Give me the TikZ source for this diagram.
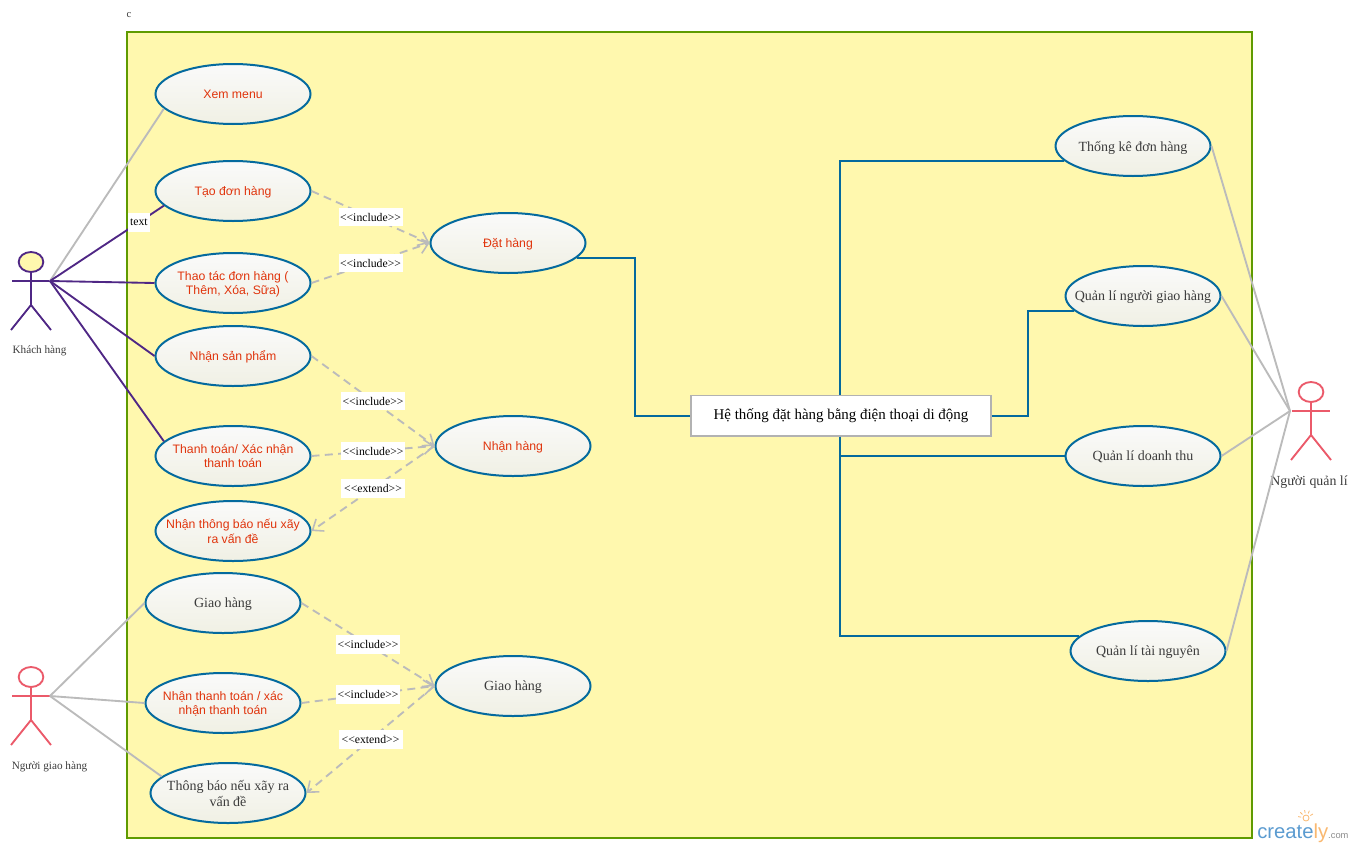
\documentclass[tikz,border=0pt]{standalone}
\usepackage{fontspec}
\setmainfont{Liberation Serif}
\newfontfamily\arialfont{Liberation Sans}
\usetikzlibrary{positioning, shapes.geometric, arrows.meta, calc}

\definecolor{frameGreen}{HTML}{5F9B00}
\definecolor{frameYellow}{HTML}{FFF8AE}
\definecolor{ucBlue}{HTML}{046A9E}
\definecolor{ucRed}{HTML}{E0340C}
\definecolor{ucGray}{HTML}{3C3C3C}
\definecolor{ucTop}{HTML}{FAFAFA}
\definecolor{ucBottom}{HTML}{F0F0E4}
\definecolor{linkGray}{HTML}{BBBBBB}
\definecolor{actPurple}{HTML}{4F2785}
\definecolor{actRed}{HTML}{EB5A6A}
\definecolor{logoBlue}{HTML}{5B9BD0}
\definecolor{logoOrange}{HTML}{F9B870}

\begin{document}
\begin{tikzpicture}[
    x=0.75pt, y=-0.75pt,
    usecase/.style={ellipse, draw=ucBlue, line width=1.5pt, top color=ucTop, bottom color=ucBottom,
        minimum width=116.25pt, minimum height=45pt, inner xsep=-20pt, inner ysep=-3pt, align=center, text depth=0pt},
    redcase/.style={usecase, text=ucRed, font=\arialfont\fontsize{9.2}{11}\selectfont},
    graycase/.style={usecase, text=ucGray, font=\fontsize{10.5}{13}\selectfont},
    actorhead/.style={ellipse, line width=1.4pt, minimum width=18.5pt, minimum height=15pt, inner sep=0pt},
    actorname/.style={text=ucGray, font=\fontsize{8.4}{10}\selectfont, inner sep=0pt},
    greyline/.style={draw=linkGray, line width=1.4pt},
    purpleline/.style={draw=actPurple, line width=1.4pt},
    blueline/.style={draw=ucBlue, line width=1.5pt},
    dashline/.style={draw=linkGray, line width=1.4pt, dash pattern=on 6pt off 4pt,
        -{Straight Barb[length=7pt, width=11pt, line width=1.2pt]}},
    tagbox/.style={fill=white, text=black, inner sep=0pt, minimum height=14pt, minimum width=48pt, font=\fontsize{8.8}{10}\selectfont}
]
\useasboundingbox (0,0) rectangle (1355,846);

% System frame
\draw[frameGreen, line width=1.5pt, fill=frameYellow] (127,32) rectangle (1252,838);
\node[text=ucGray, font=\fontsize{8}{9}\selectfont, inner sep=0pt] (framename) at (129,15.5) {c};

% Actors
\foreach \nm/\ax/\ay/\col/\headfill in {buyer/31/262/actPurple/frameYellow, shipper/31/677/actRed/white, manager/1311/392/actRed/white} {
    \node[actorhead, draw=\col, fill=\headfill] (\nm) at (\ax,\ay) {};
    \draw[\col, line width=1.4pt] (\nm.south) -- (\ax,\ay+43) -- (\ax-20,\ay+68);
    \draw[\col, line width=1.4pt] (\ax,\ay+43) -- (\ax+20,\ay+68);
    \draw[\col, line width=1.4pt] (\ax-19,\ay+19) -- (\ax+19,\ay+19);
}
\coordinate (buyerhand) at (50,281);
\coordinate (shipperhand) at (50,696);
\coordinate (managerhand) at (1290,411);
\node[actorname] (buyername) at (39.5,350.5) {Khách hàng};
\node[actorname] (shippername) at (49.5,766.5) {Người giao hàng};
\node[actorname, font=\fontsize{10.4}{12}\selectfont] (managername) at (1309,482.5) {Người quản lí};

% Use cases, left column
\node[redcase] (menu) at (233,94) {Xem menu};
\node[redcase] (create) at (233,191) {Tạo đơn hàng};
\node[redcase] (edit) at (233,283) {Thao tác đơn hàng (\\Thêm, Xóa, Sữa)};
\node[redcase] (receive) at (233,356) {Nhận sản phẩm};
\node[redcase] (pay) at (233,456) {Thanh toán/ Xác nhận\\thanh toán};
\node[redcase] (notice) at (233,531) {Nhận thông báo nếu xãy\\ra vấn đề};
\node[graycase] (deliver) at (223,603) {Giao hàng};
\node[redcase] (collect) at (223,703) {Nhận thanh toán / xác\\nhận thanh toán};
\node[graycase, font=\fontsize{10.5}{12}\selectfont] (report) at (228,793) {Thông báo nếu xãy ra\\vấn đề};

% Use cases, middle column
\node[redcase] (order) at (508,243) {Đặt hàng};
\node[redcase] (getgoods) at (513,446) {Nhận hàng};
\node[graycase] (shipping) at (513,686) {Giao hàng};

% Use cases, right column
\node[graycase] (stats) at (1133,146) {Thống kê đơn hàng};
\node[graycase] (staff) at (1143,296) {Quản lí người giao hàng};
\node[graycase] (income) at (1143,456) {Quản lí doanh thu};
\node[graycase] (stock) at (1148,651) {Quản lí tài nguyên};

% The system box
\node[draw=black!30, line width=1pt, fill=white, text=black, minimum width=225pt, minimum height=30.5pt, inner sep=0pt,
    font=\fontsize{11.2}{13}\selectfont] (system) at (841,415.5) {Hệ thống đặt hàng bằng điện thoại di động};
\coordinate (trunk) at (839.5,415.5);
\coordinate (orderbend) at (635,258);
\coordinate (staffbend) at (1028,415.5);

% Actor links
\draw[greyline] (buyerhand) -- (menu.192);
\draw[purpleline] (buyerhand) -- (create.192) node[pos=0.78, fill=white, text=black, inner sep=0pt, minimum width=16.5pt, minimum height=14pt, font=\fontsize{8.8}{10}\selectfont] (createtag) {text};
\draw[purpleline] (buyerhand) -- (edit.180);
\draw[purpleline] (buyerhand) -- (receive.180);
\draw[purpleline] (buyerhand) -- (pay.168);
\draw[greyline] (shipperhand) -- (deliver.180);
\draw[greyline] (shipperhand) -- (collect.180);
\draw[greyline] (shipperhand) -- (report.166);
\foreach \uc in {stats, staff, income, stock} {
    \draw[greyline] (managerhand) -- (\uc.0);
}

% Include and extend links
\foreach \from/\to/\tag in {create.0/order.180/include, edit.0/order.180/include,
    receive.0/getgoods.180/include, pay.0/getgoods.180/include, getgoods.180/notice.0/extend,
    deliver.0/shipping.180/include, collect.0/shipping.180/include, shipping.180/report.0/extend} {
    \draw[dashline] (\from) -- (\to) node[midway, tagbox] {<{}<\tag>{}>};
}

% System links
\draw[blueline] (orderbend -| order.348) -- (orderbend) |- (system.west);
\draw[blueline] (system.north -| trunk) |- (stats.192);
\draw[blueline] (system.east) -- (staffbend) |- (staff.192);
\draw[blueline] (system.south -| trunk) |- (income.180);
\draw[blueline] (system.south -| trunk) |- (stock.168);

% Watermark
\node[inner sep=0pt, anchor=base west, font=\arialfont\fontsize{15.2}{16}\selectfont, text=logoBlue] (logo) at (1257,838)
    {create\textcolor{logoOrange}{ly}\textcolor{black!45}{\fontsize{7}{7}\selectfont .com}};
\draw[logoOrange, line width=0.6pt] (1306,818) circle (3);
\foreach \ang in {30,65,...,170} {
    \draw[logoOrange, line width=0.6pt] (1306,818) ++(-\ang:5) -- ++(-\ang:3);
}
\end{tikzpicture}
\end{document}
